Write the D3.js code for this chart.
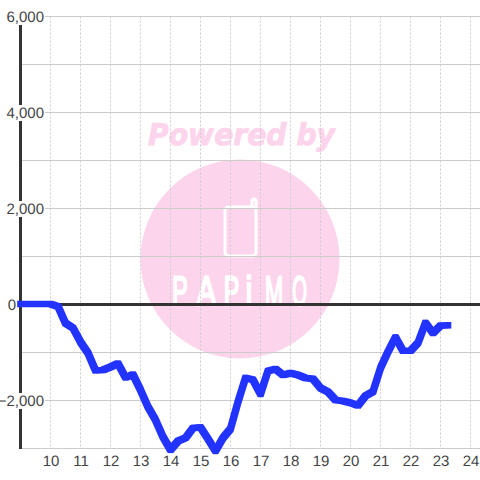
<!DOCTYPE html>
<html><head><meta charset="utf-8">
<style>html,body{margin:0;padding:0;background:#fff}svg{display:block}text{text-rendering:geometricPrecision}</style>
<script src="https://cdn.jsdelivr.net/npm/d3@7"></script>
</head><body><svg id="c" width="480" height="480"></svg>
<script>
const hours = [9,9.25,9.5,9.75,10,10.25,10.5,10.75,11,11.25,11.5,11.75,12,12.25,12.5,12.75,13,13.25,13.5,13.75,14,14.25,14.5,14.75,15,15.25,15.5,15.75,16,16.25,16.5,16.75,17,17.25,17.5,17.75,18,18.25,18.5,18.75,19,19.25,19.5,19.75,20,20.25,20.5,20.75,21,21.25,21.5,21.75,22,22.25,22.5,22.75,23,23.25];
const values = [0,0,0,0,0,-50,-400,-500,-790,-1020,-1385,-1375,-1312,-1240,-1530,-1470,-1790,-2145,-2415,-2770,-3040,-2855,-2790,-2585,-2570,-2810,-3060,-2790,-2600,-2040,-1540,-1580,-1875,-1395,-1355,-1480,-1440,-1480,-1540,-1560,-1750,-1830,-2000,-2020,-2060,-2115,-1915,-1825,-1335,-995,-695,-975,-975,-810,-395,-605,-450,-445];
const xTicks = [10,11,12,13,14,15,16,17,18,19,20,21,22,23,24];
const yMajor = [6000,4000,2000,0,-2000];
const yGrid = [6000,5000,4000,3000,2000,1000,-1000,-2000,-3000];
const watermarkTitle = "Powered by";
const logoLetters = ["P","A","P","i","M","O"];

const W = 480, H = 480;
const x = d3.scaleLinear().domain([9,24]).range([20.5,470.5]);
const y = d3.scaleLinear().domain([-3000,6000]).range([448.5,16.5]);
const svg = d3.select("#c");
const PINK = "#fcd5ec", GRID = "#cccccc", DARK = "#333333", BLUE = "#2233ff", TXT = "#444444";

// square-pen look of the series line
const f = svg.append("defs").append("filter").attr("id","pen")
  .attr("filterUnits","userSpaceOnUse").attr("x",0).attr("y",0).attr("width",W).attr("height",H);
f.append("feMorphology").attr("operator","dilate").attr("radius",2);

// watermark
const wm = svg.append("g");
wm.append("circle").attr("cx",240).attr("cy",259).attr("r",99.5).attr("fill",PINK);
wm.append("text").attr("x",148).attr("y",145)
  .attr("textLength",187).attr("lengthAdjust","spacingAndGlyphs")
  .attr("font-family","DejaVu Sans").attr("font-weight","bold").attr("font-style","italic")
  .attr("font-size",30).attr("fill",PINK).attr("stroke",PINK).attr("stroke-width",0.9).text(watermarkTitle);
wm.append("path").attr("fill","none").attr("stroke","#fff").attr("stroke-width",3)
  .attr("stroke-linejoin","round").attr("stroke-linecap","round")
  .attr("d","M253 207 H229 Q225 207 225 211 V252 Q225 256 229 256 H252 Q256 256 256 252 V201 Q256 199 254 199 Q252 199 252 201 V207");
const logoX = [180,206.5,231.5,249,274,299.5];
const logoScale = [0.8,1.0,0.8,1.0,0.75,0.65];
wm.selectAll("text.logo").data(logoLetters).join("text").attr("class","logo")
  .attr("transform",(d,i)=>`translate(${logoX[i]},305) scale(${logoScale[i]},1.42)`)
  .attr("text-anchor","middle").attr("font-family","Liberation Sans").attr("font-size",29)
  .attr("fill","#fff").attr("stroke","#fff").attr("stroke-width",1.6).text(d=>d);

// grid
svg.append("g").selectAll("line").data(xTicks).join("line")
  .attr("x1",d=>x(d)).attr("x2",d=>x(d)).attr("y1",y(6000)).attr("y2",y(-3000))
  .attr("stroke",GRID).attr("stroke-dasharray","2,2");
svg.append("g").selectAll("line").data(yGrid).join("line")
  .attr("x1",x(9)).attr("x2",W).attr("y1",d=>y(d)).attr("y2",d=>y(d)).attr("stroke",GRID);

// axes lines
svg.append("line").attr("x1",x(9)).attr("x2",W).attr("y1",y(0)).attr("y2",y(0)).attr("stroke",DARK).attr("stroke-width",3);
svg.append("line").attr("x1",x(9)).attr("x2",x(9)).attr("y1",y(6000)).attr("y2",y(-3000)+0.5).attr("stroke",DARK).attr("stroke-width",3);

// series
svg.append("path").datum(d3.zip(hours,values))
  .attr("fill","none").attr("stroke",BLUE).attr("stroke-width",2.6).attr("filter","url(#pen)")
  .attr("transform","translate(0,-0.5)")
  .attr("stroke-linejoin","round").attr("stroke-linecap","square")
  .attr("d",d3.line().x(d=>x(d[0])).y(d=>y(d[1])));

// tick labels with opaque backgrounds
const fmt = d3.format(",");
function labels(sel){
  sel.attr("font-family","Liberation Sans").attr("font-size",15).attr("fill",TXT);
  sel.each(function(){
    const b=this.getBBox();
    d3.select(this.parentNode).insert("rect",()=>this)
      .attr("x",b.x).attr("y",b.y+b.height/2-8).attr("width",b.width+1).attr("height",16).attr("fill","#fff");
  });
}
const yl = svg.append("g").selectAll("g").data(yMajor).join("g");
labels(yl.append("text").attr("x",d=>d===0?16:44).attr("y",d=>y(d)+5).attr("text-anchor","end").text(d=>fmt(d)));
const xl = svg.append("g").selectAll("g").data(xTicks).join("g");
labels(xl.append("text").attr("x",d=>x(d)+0.5).attr("y",466).attr("text-anchor","middle").text(d=>d));
</script></body></html>
